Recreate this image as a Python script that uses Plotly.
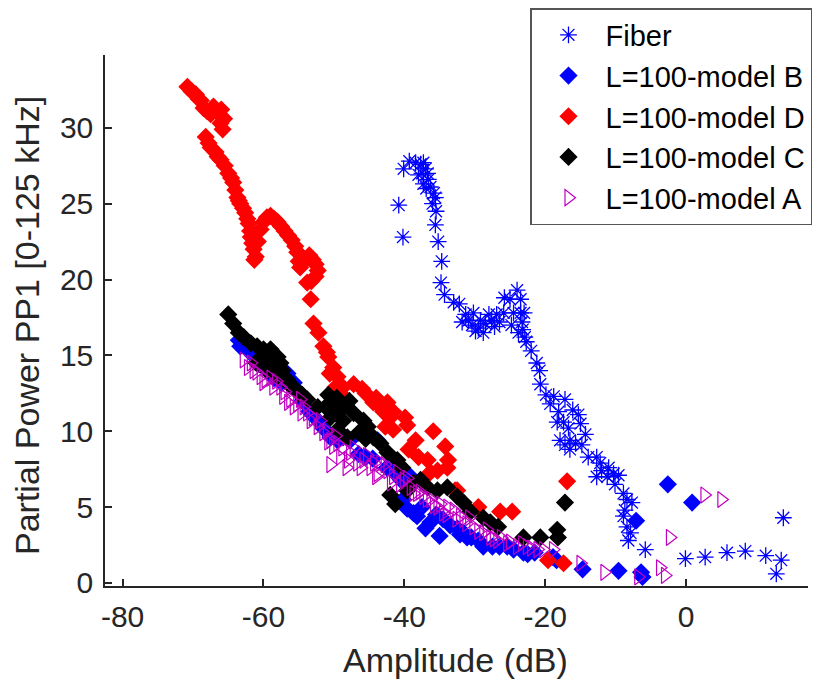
import plotly.graph_objects as go

# ---------------- data ----------------
fiber_x = [-40.8, -40.2, -40.1, -39.3, -38.4, -37.7, -37.3, -37.0, -37.5, -36.7,
           -37.3, -36.6, -36.3, -35.8, -35.6, -35.5, -35.6, -35.2, -34.7, -34.8,
           -34.3, -33.0, -32.2, -31.3, -30.9, -30.4, -29.9, -30.2, -29.2, -28.5,
           -28.0, -27.6, -26.9, -25.9, -25.8, -25.0, -24.5, -24.0, -23.5, -23.5,
           -23.3, -23.2, -22.7, -22.0, -21.2, -20.8, -20.7, -29.5, -28.8, -27.2,
           -26.5, -24.8, -23.8, -23.0, -22.9, -31.8, -38.0, -36.9, -36.0,
           -19.9, -18.8, -17.2, -19.3, -18.1, -16.1, -15.3, -18.3, -17.4, -15.0,
           -16.7, -14.3, -17.9, -16.5, -15.7, -14.8, -16.5, -17.2, -13.9, -12.7,
           -12.2, -12.0, -11.0, -12.7, -11.2, -10.3, -9.6, -10.1, -8.9, -8.4,
           -7.7, -8.7, -8.9, -8.4, -7.9, -8.2, -5.8, -0.1, 2.7, 5.8,
           8.4, 11.3, 13.5, 12.8, 13.8]
fiber_y = [24.9, 22.8, 27.3, 27.8, 27.7, 27.6, 27.7, 27.3, 27.0, 27.0,
           26.3, 26.6, 26.1, 25.7, 25.4, 24.5, 23.6, 22.5, 21.2, 19.8,
           19.0, 18.5, 18.4, 17.7, 17.3, 17.0, 16.6, 17.8, 17.3, 17.1,
           17.7, 17.3, 17.7, 17.8, 18.8, 18.7, 17.8, 19.3, 18.7, 17.8,
           17.2, 16.7, 15.9, 15.3, 14.5, 14.0, 13.1, 16.8, 16.5, 16.9,
           17.2, 17.0, 16.5, 17.8, 16.2, 17.2, 26.9, 26.0, 25.0,
           12.4, 12.3, 12.1, 11.8, 11.3, 11.4, 11.1, 10.6, 10.6, 10.5,
           10.2, 9.8, 9.4, 9.4, 9.2, 9.1, 8.8, 9.1, 8.3, 8.3,
           7.9, 7.4, 7.6, 7.0, 7.0, 7.2, 7.1, 6.5, 5.9, 5.5,
           5.3, 4.8, 4.4, 3.7, 3.3, 2.8, 2.2, 1.6, 1.7, 2.0,
           2.1, 1.8, 1.5, 0.6, 4.3]

modelB_x = [-63.5, -63.3, -62.8, -62.5, -61.5, -60.5, -59.5, -58.5, -57.5, -56.6,
            -55.7, -55.2, -54.5, -53.5, -52.5, -51.5, -50.5, -49.5, -48.7, -47.7,
            -46.5, -45.5, -44.5, -43.8, -42.5, -41.5, -40.5, -39.1, -38.7, -38.2,
            -37.5, -36.3, -35.5, -34.5, -33.5, -32.5, -32.1, -31.6, -31.1, -30.5,
            -29.5, -28.8, -27.5, -26.5, -25.4, -24.5, -23.1, -22.5, -21.5, -18.9,
            -18.4, -14.7, -9.6, -6.4, -6.2, -7.1, -2.6, 0.85, -39.6, -37.0,
            -35.0, -40.2]
modelB_y = [16.0, 15.6, 16.0, 15.5, 15.0, 14.4, 14.0, 13.5, 13.2, 13.8,
            13.2, 12.7, 12.0, 11.3, 10.8, 10.2, 9.6, 9.4, 9.6, 9.4,
            8.5, 8.3, 8.2, 9.4, 7.6, 7.3, 6.8, 7.0, 4.6, 4.4,
            5.0, 4.0, 4.5, 4.2, 3.8, 3.6, 3.2, 3.3, 3.0, 3.0,
            2.8, 2.4, 2.4, 2.4, 2.4, 2.2, 2.0, 1.9, 2.0, 1.7,
            1.5, 0.9, 0.8, 0.7, 0.4, 4.1, 6.5, 5.3, 4.9, 3.6,
            3.1, 5.5]

modelD_x = [-70.8, -70.2, -69.6, -69.2, -68.9, -68.5, -68.0, -67.5, -67.1, -66.5,
            -66.0, -65.6, -66.1, -65.8, -68.2, -67.8, -67.5, -66.8, -66.5, -66.1,
            -65.5, -65.0, -64.6, -64.3, -64.0, -63.7, -63.5, -63.3, -62.9, -62.6,
            -62.3, -62.1, -61.9, -61.8, -61.6, -61.4, -61.1, -61.3, -60.8, -60.4,
            -60.0, -59.5, -59.0, -58.5, -58.0, -57.5, -57.0, -56.5, -56.0, -55.5,
            -55.2, -55.0, -54.8, -54.5, -54.0, -53.5, -53.0, -52.6, -52.3, -52.6,
            -53.2, -53.8, -53.3, -52.9, -52.2, -51.5, -51.0, -50.8, -50.6, -50.1,
            -49.5, -50.2, -48.7, -47.2, -45.5, -44.4, -43.4, -42.4, -41.6, -39.9,
            -49.8, -49.1, -43.0, -42.0, -42.7, -41.6, -39.6, -38.4, -39.4, -35.9,
            -34.2, -38.0, -36.7, -36.3, -35.3, -33.9, -32.5, -33.8, -32.8, -29.5,
            -26.4, -24.7, -16.9, -19.6, -17.4, -44.0, -46.0]
modelD_y = [32.7, 32.4, 32.2, 31.9, 31.8, 31.3, 31.1, 30.9, 31.4, 31.0,
            31.2, 30.6, 30.3, 29.9, 29.4, 29.0, 28.7, 28.4, 28.1, 27.9,
            27.5, 27.0, 26.7, 26.4, 25.9, 25.4, 25.2, 25.0, 24.7, 24.4,
            24.0, 23.7, 23.2, 22.8, 22.4, 22.0, 21.5, 21.3, 22.5, 23.3,
            23.8, 24.1, 24.2, 24.0, 23.8, 23.5, 23.2, 22.9, 22.6, 22.2,
            21.8, 21.2, 20.8, 21.5, 21.3, 21.6, 21.3, 21.0, 20.6, 20.2,
            19.9, 19.8, 18.7, 17.1, 16.5, 15.6, 15.2, 14.9, 13.8, 14.2,
            13.6, 12.5, 12.9, 13.1, 12.5, 11.9, 11.6, 11.9, 11.3, 10.9,
            12.9, 12.5, 11.3, 10.9, 10.3, 10.1, 10.4, 9.4, 8.8, 10.0,
            9.0, 8.3, 8.1, 7.3, 7.4, 7.6, 6.1, 8.1, 6.1, 5.0,
            4.7, 4.7, 6.7, 1.5, 1.3, 12.2, 12.8]

modelC_x = [-65.0, -64.3, -63.5, -62.8, -61.8, -60.9, -60.0, -59.0, -58.0, -57.6,
            -57.3, -58.0, -56.6, -55.7, -55.0, -53.8, -52.3, -51.2, -50.1, -49.4,
            -50.5, -48.7, -49.5, -48.1, -48.7, -47.2, -45.8, -45.2, -44.4, -43.4,
            -42.4, -41.0, -40.3, -42.0, -39.6, -38.7, -37.7, -36.7, -35.3, -33.9,
            -32.5, -31.6, -30.6, -28.8, -27.8, -26.7, -23.1, -20.7, -18.3, -18.2,
            -17.2, -61.0, -59.5, -58.5, -50.8, -49.6, -47.8, -60.5, -59.8, -58.8,
            -57.8, -41.3, -46.5, -45.5, -54.5, -56.2]
modelC_y = [17.7, 17.1, 16.5, 16.2, 15.8, 15.6, 15.4, 15.4, 14.9, 14.5,
            14.0, 13.6, 13.4, 12.9, 12.5, 12.1, 11.6, 11.6, 11.9, 11.4,
            10.9, 10.7, 10.1, 9.6, 11.6, 11.2, 10.7, 10.3, 9.6, 9.2,
            8.6, 8.1, 7.6, 5.8, 6.1, 6.6, 6.8, 6.3, 6.1, 6.3,
            5.7, 5.3, 4.7, 4.3, 4.0, 3.7, 3.0, 3.0, 3.5, 3.0,
            5.3, 14.5, 14.0, 13.8, 12.4, 12.2, 12.0, 14.8, 15.0, 14.4,
            13.9, 5.2, 9.9, 9.5, 12.4, 13.0]

modelA_x = [-62.8, -61.8, -61.4, -60.4, -59.7, -59.0, -57.6, -57.2, -56.2, -55.7,
            -54.8, -54.3, -53.8, -53.3, -52.3, -51.5, -50.5, -49.5, -50.1, -49.1,
            -47.7, -46.7, -45.8, -44.8, -43.4, -42.4, -41.6, -40.1, -39.1, -38.2,
            -37.3, -36.3, -35.3, -34.5, -33.0, -32.1, -33.9, -31.6, -30.2, -28.8,
            -27.8, -26.8, -25.4, -24.0, -22.6, -21.1, -18.9, -15.0, -11.6, -6.8,
            -3.7, -3.0, -2.3, 2.6, 5.0, -50.5, -48.2, -44.0,
            -62.2, -61.0, -60.0, -58.6, -58.2, -57.0, -56.5, -55.2, -54.6, -53.0,
            -52.0, -51.0, -50.8, -49.8, -48.8, -48.0, -47.2, -46.2, -45.3, -44.3,
            -43.8, -42.8, -41.9, -41.0, -40.6, -39.6, -38.7, -37.8, -36.8, -35.8,
            -34.9, -34.0, -32.6, -31.2, -30.8, -29.5, -28.3, -27.3, -26.3, -25.0,
            -23.3, -22.0, -20.3]
modelA_y = [14.7, 14.5, 14.0, 13.6, 13.4, 13.5, 12.9, 12.3, 12.1, 11.6,
            12.1, 11.6, 11.2, 10.7, 10.3, 9.9, 9.4, 9.2, 9.0, 8.3,
            8.6, 7.9, 8.1, 7.6, 7.9, 7.4, 7.0, 6.8, 6.3, 5.9,
            5.7, 5.5, 5.0, 4.6, 4.8, 4.4, 5.0, 4.2, 3.7, 3.3,
            3.0, 2.8, 2.6, 2.4, 2.4, 2.2, 2.2, 1.3, 0.7, 0.4,
            1.0, 0.5, 3.0, 5.8, 5.5, 7.8, 7.6, 7.0,
            14.2, 13.9, 13.2, 12.9, 13.3, 12.6, 11.9, 11.8, 11.2, 10.9,
            10.7, 10.0, 9.3, 9.7, 8.9, 8.1, 8.9, 7.6, 8.4, 7.9,
            7.2, 7.8, 6.6, 7.3, 6.5, 6.9, 5.9, 6.0, 5.5, 5.1,
            5.2, 4.5, 4.2, 3.9, 4.3, 3.4, 3.5, 2.9, 3.0, 2.7,
            2.6, 2.3, 2.2]

x_ticks = [-80, -60, -40, -20, 0]
y_ticks = [0, 5, 10, 15, 20, 25, 30]
x_title = "Amplitude (dB)"
y_title = "Partial Power PP1 [0-125 kHz]"

# ---------------- figure ----------------
FONT = "Liberation Sans, Arial, sans-serif"
AX = "#262626"
MAG = "#C000C0"
L, R, T, B = 105, 17, 55, 102
PW, PH = 825 - L - R, 688 - T - B

fig = go.Figure()
fig.add_trace(go.Scatter(x=fiber_x, y=fiber_y, mode="markers", name="Fiber",
                         marker=dict(symbol="asterisk-open", size=14, color="#0000FF",
                                     line=dict(color="#0000FF", width=1.3))))
fig.add_trace(go.Scatter(x=modelB_x, y=modelB_y, mode="markers", name="L=100-model B",
                         marker=dict(symbol="diamond", size=14, color="#0000FF",
                                     line=dict(width=0))))
fig.add_trace(go.Scatter(x=modelD_x, y=modelD_y, mode="markers", name="L=100-model D",
                         marker=dict(symbol="diamond", size=14, color="#FF0000",
                                     line=dict(width=0))))
fig.add_trace(go.Scatter(x=modelC_x, y=modelC_y, mode="markers", name="L=100-model C",
                         marker=dict(symbol="diamond", size=14, color="#000000",
                                     line=dict(width=0))))
fig.add_trace(go.Scatter(x=modelA_x, y=modelA_y, mode="markers", name="L=100-model A",
                         marker=dict(symbol="triangle-right-open", size=14, color=MAG,
                                     line=dict(color=MAG, width=1.2))))

fig.update_layout(
    width=825, height=688,
    margin=dict(l=L, r=R, t=T, b=B, autoexpand=False),
    paper_bgcolor="white", plot_bgcolor="white",
    font=dict(family=FONT, size=30, color=AX),
    showlegend=True,
    legend=dict(x=(530 - L) / PW, y=(T + PH - 8) / PH, xanchor="left", yanchor="top",
                bgcolor="white", bordercolor="#555555", borderwidth=1.5,
                font=dict(family=FONT, size=29, color="#000000"),
                itemwidth=64, tracegroupgap=0),
    annotations=[
        dict(text=x_title, xref="paper", yref="paper", x=(455 - L) / PW,
             y=(T + PH - 660) / PH, xanchor="center", yanchor="middle",
             showarrow=False, font=dict(family=FONT, size=34, color=AX)),
        dict(text=y_title, xref="paper", yref="paper", x=(27 - L) / PW,
             y=(T + PH - 326) / PH, xanchor="center", yanchor="middle", textangle=-90,
             showarrow=False, font=dict(family=FONT, size=34, color=AX)),
    ],
)
fig.update_xaxes(range=[-82.5, 17.3], tickvals=x_ticks, ticktext=[str(v) for v in x_ticks],
                 showgrid=False, zeroline=False, showline=True, linecolor=AX, linewidth=1.5,
                 ticks="inside", ticklen=7, tickwidth=1.5, tickcolor=AX, automargin=False,
                 tickfont=dict(size=30, color=AX), ticklabelstandoff=3)
fig.update_yaxes(range=[-0.2, 34.8], tickvals=y_ticks, ticktext=[str(v) for v in y_ticks],
                 showgrid=False, zeroline=False, showline=True, linecolor=AX, linewidth=1.5,
                 ticks="inside", ticklen=7, tickwidth=1.5, tickcolor=AX, automargin=False,
                 tickfont=dict(size=30, color=AX), ticklabelstandoff=4)

fig.write_html("out.html", config={"displayModeBar": False},
               post_script="document.body.style.margin='0';")
